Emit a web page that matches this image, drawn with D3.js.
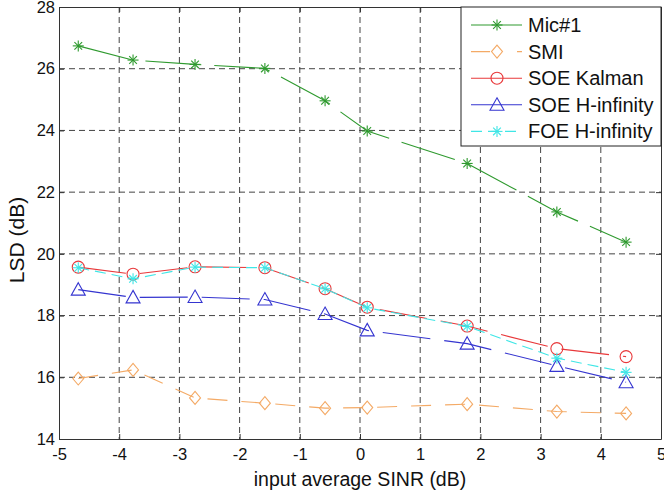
<!DOCTYPE html>
<html><head><meta charset="utf-8">
<script src="https://cdn.jsdelivr.net/npm/d3@7"></script>
<style>
body{margin:0;background:#fff;}
svg{display:block;font-family:"Liberation Sans",Arial,Helvetica,sans-serif;}
</style></head>
<body><svg id="c" width="664" height="495"></svg>
<script>
const xValues = [-4.68, -3.77, -2.74, -1.58, -0.58, 0.12, 1.78, 3.27, 4.42];
const mic1 = [26.74, 26.28, 26.14, 26.01, 24.96, 23.98, 22.93, 21.36, 20.38];
const smi = [15.96, 16.24, 15.33, 15.16, 15.0, 15.02, 15.13, 14.89, 14.83];
const soeKalman = [19.57, 19.34, 19.58, 19.55, 18.87, 18.27, 17.66, 16.93, 16.67];
const soeHinf = [18.84, 18.59, 18.6, 18.52, 18.05, 17.52, 17.09, 16.37, 15.84];
const foeHinf = [19.55, 19.19, 19.57, 19.55, 18.87, 18.25, 17.65, 16.62, 16.16];
const seriesNames = ["Mic#1", "SMI", "SOE Kalman", "SOE H-infinity", "FOE H-infinity"];
const xTicks = [-5, -4, -3, -2, -1, 0, 1, 2, 3, 4, 5];
const yTicks = [14, 16, 18, 20, 22, 24, 26, 28];

const series = [
  {name: seriesNames[0], values: mic1, color: "#2f9a2f", marker: "star", dash: "56,13"},
  {name: seriesNames[1], values: smi, color: "#f4aa66", marker: "diamond", dash: "20,14"},
  {name: seriesNames[2], values: soeKalman, color: "#e8383a", marker: "circle", dash: "48,14"},
  {name: seriesNames[3], values: soeHinf, color: "#3535d0", marker: "triangle", dash: "48,14"},
  {name: seriesNames[4], values: foeHinf, color: "#3fe6e6", marker: "star", dash: "11,6"}
];

const svg = d3.select("#c");
const L = 59, R = 661, T = 7, B = 439;
const x = d3.scaleLinear().domain([-5, 5]).range([L, R]);
const y = d3.scaleLinear().domain([14, 28]).range([B, T]);

// grid
const grid = svg.append("g");
xTicks.slice(1, -1).forEach(v => grid.append("line")
  .attr("x1", x(v)).attr("x2", x(v)).attr("y1", T).attr("y2", B)
  .attr("stroke", "#444").attr("stroke-dasharray", "6,4").attr("stroke-width", 1));
yTicks.slice(1, -1).forEach(v => grid.append("line")
  .attr("y1", y(v)).attr("y2", y(v)).attr("x1", L).attr("x2", R)
  .attr("stroke", "#444").attr("stroke-dasharray", "6,4").attr("stroke-width", 1));

// axes
const ax = svg.append("g").attr("transform", `translate(0,${B})`)
  .call(d3.axisBottom(x).tickValues(xTicks).tickSizeInner(-5).tickSizeOuter(0).tickPadding(9).tickFormat(d3.format("d")));
const axTop = svg.append("g").attr("transform", `translate(0,${T})`)
  .call(d3.axisTop(x).tickValues(xTicks).tickSizeInner(-5).tickSizeOuter(0).tickFormat(""));
const ay = svg.append("g").attr("transform", `translate(${L},0)`)
  .call(d3.axisLeft(y).tickValues(yTicks).tickSizeInner(-5).tickSizeOuter(0).tickPadding(4).tickFormat(d3.format("d")));
const ayR = svg.append("g").attr("transform", `translate(${R},0)`)
  .call(d3.axisRight(y).tickValues(yTicks).tickSizeInner(-5).tickSizeOuter(0).tickFormat(""));
[ax, axTop, ay, ayR].forEach(g => {
  g.selectAll("path.domain").attr("stroke", "#333");
  g.selectAll(".tick line").attr("stroke", "#333");
  g.selectAll("text").attr("fill", "#111").attr("font-size", 16.5).attr("font-family", "Liberation Sans, Arial, sans-serif");
});
ax.selectAll("text").text(d => d < 0 ? "-" + Math.abs(d) : d);

// axis labels
svg.append("text").attr("x", 360).attr("y", 486).attr("text-anchor", "middle")
  .attr("font-size", 19.5).attr("fill", "#111").text("input average SINR (dB)");
svg.append("text").attr("transform", "translate(24,240) rotate(-90)").attr("text-anchor", "middle")
  .attr("font-size", 21).attr("fill", "#111").text("LSD (dB)");

function drawMarker(g, type, cx, cy, color) {
  if (type === "star") {
    const s = 5.5;
    const p = g.append("g").attr("stroke", color).attr("stroke-width", 1.1);
    [[-s,0,s,0],[0,-s,0,s],[-s*0.7,-s*0.7,s*0.7,s*0.7],[-s*0.7,s*0.7,s*0.7,-s*0.7]].forEach(l =>
      p.append("line").attr("x1", cx+l[0]).attr("y1", cy+l[1]).attr("x2", cx+l[2]).attr("y2", cy+l[3]));
  } else if (type === "circle") {
    g.append("circle").attr("cx", cx).attr("cy", cy).attr("r", 6).attr("fill", "none").attr("stroke", color).attr("stroke-width", 1.1);
  } else if (type === "triangle") {
    g.append("path").attr("d", `M${cx},${cy-7}L${cx+7},${cy+5.5}L${cx-7},${cy+5.5}Z`).attr("fill", "none").attr("stroke", color).attr("stroke-width", 1.1);
  } else if (type === "diamond") {
    g.append("path").attr("d", `M${cx},${cy-6.5}L${cx+5.5},${cy}L${cx},${cy+6.5}L${cx-5.5},${cy}Z`).attr("fill", "none").attr("stroke", color).attr("stroke-width", 1.1);
  }
}

const line = d3.line().x(d => x(d[0])).y(d => y(d[1]));
series.forEach(s => {
  const g = svg.append("g");
  const pts = xValues.map((xv, i) => [xv, s.values[i]]);
  g.append("path").attr("d", line(pts)).attr("fill", "none").attr("stroke", s.color)
    .attr("stroke-width", 1.1).attr("stroke-dasharray", s.dash);
  pts.forEach(p => drawMarker(g, s.marker, x(p[0]), y(p[1]), s.color));
});

// legend
const leg = svg.append("g");
leg.append("rect").attr("x", 461).attr("y", 7).attr("width", 200).attr("height", 139)
  .attr("fill", "#fff").attr("stroke", "#222").attr("stroke-width", 1);
series.forEach((s, i) => {
  const cy = 25 + i * 26.6;
  leg.append("line").attr("x1", 471).attr("x2", 522).attr("y1", cy).attr("y2", cy)
    .attr("stroke", s.color).attr("stroke-width", 1.1)
    .attr("stroke-dasharray", i === 1 ? "19,27,5" : (i === 4 ? "11,6" : null));
  drawMarker(leg, s.marker, 497, cy, s.color);
  leg.append("text").attr("x", 528).attr("y", cy + 7).attr("font-size", 20).attr("fill", "#111").text(s.name);
});
</script></body></html>
